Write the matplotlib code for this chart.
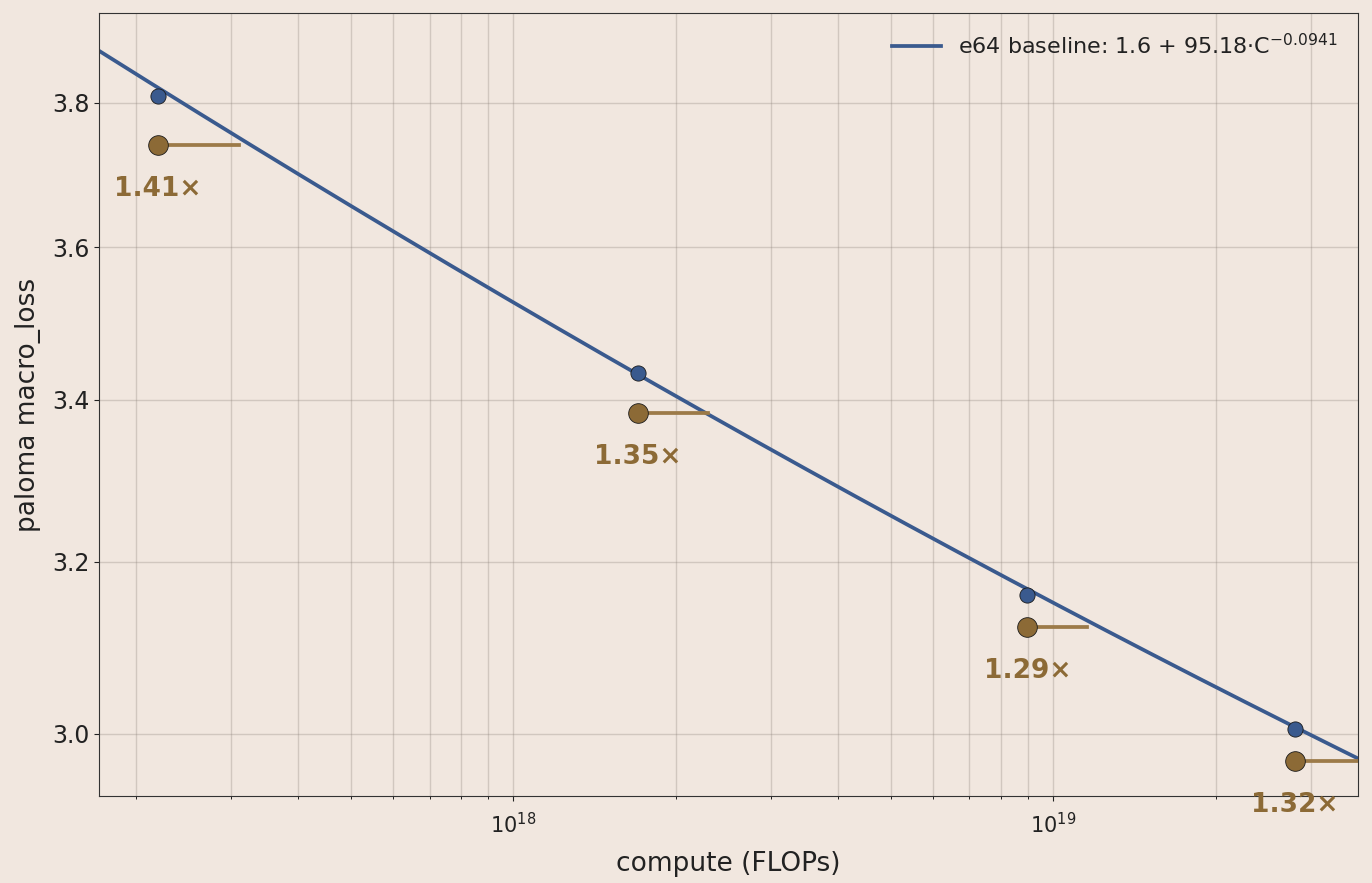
import matplotlib
matplotlib.use("Agg")
import matplotlib.pyplot as plt
import numpy as np
from matplotlib.ticker import FixedLocator, NullLocator, FixedFormatter, LogLocator

compute = [2.2e17, 1.70e18, 8.96e18, 2.8e19]
baseline_loss = [3.810, 3.434, 3.160, 3.006]
variant_loss = [3.741, 3.383, 3.123, 2.970]
multipliers = [1.41, 1.35, 1.29, 1.32]
labels = ["1.41×", "1.35×", "1.29×", "1.32×"]
fit_a, fit_b, fit_c = 1.6, 95.18, 0.0941

bg = "#f1e7df"
blue = "#3a5a8e"
brown = "#8c6a36"

fig = plt.figure(figsize=(13.72, 8.83), dpi=100, facecolor=bg)
ax = fig.add_axes([0.0722, 0.0985, 0.9176, 0.8868], facecolor=bg)
ax.set_xscale("log"); ax.set_yscale("log")
xmin, xmax = 1.71e17, 3.67e19
ax.set_xlim(xmin, xmax); ax.set_ylim(2.931, 3.930)

xs = np.logspace(np.log10(xmin), np.log10(xmax), 300)
ax.plot(xs, fit_a + fit_b * xs ** (-fit_c), color=blue, lw=2.7,
        label="e64 baseline: 1.6 + 95.18·C$^{-0.0941}$", zorder=2)
for c, yb, yv, m, lab in zip(compute, baseline_loss, variant_loss, multipliers, labels):
    ax.plot([c, c * m], [yv, yv], color="#9c7a48", lw=2.7, zorder=3)
    ax.scatter([c], [yb], s=120, color=blue, edgecolor="#1a1a1a", lw=0.6, zorder=4)
    ax.scatter([c], [yv], s=200, color=brown, edgecolor="#1a1a1a", lw=0.6, zorder=4)
    ax.annotate(lab, (c, yv), xytext=(0, -44), textcoords="offset pixels",
                ha="center", va="center", fontsize=19, fontweight="bold", color=brown, zorder=5)

yt = [3.0, 3.2, 3.4, 3.6, 3.8]
ax.yaxis.set_major_locator(FixedLocator(yt))
ax.yaxis.set_major_formatter(FixedFormatter([f"{v:.1f}" for v in yt]))
ax.yaxis.set_minor_locator(NullLocator())
ax.xaxis.set_minor_locator(LogLocator(base=10, subs=np.arange(2, 10)))
ax.grid(True, which="major", color="#8a8078", lw=1, alpha=0.3)
ax.grid(True, which="minor", axis="x", color="#8a8078", lw=1, alpha=0.3)
ax.set_axisbelow(True)
ax.tick_params(labelsize=17, colors="#222222")
ax.tick_params(axis="x", labelsize=15, pad=8)
for s in ax.spines.values():
    s.set_color("#333333")
ax.set_xlabel("compute (FLOPs)", fontsize=19, color="#222222", labelpad=10)
ax.set_ylabel("paloma macro_loss", fontsize=19, color="#222222", labelpad=8)
leg = ax.legend(loc="upper right", frameon=False, fontsize=16, handlelength=2.2)
for t in leg.get_texts():
    t.set_color("#222222")
fig.savefig("out.png", dpi=100, facecolor=bg)
